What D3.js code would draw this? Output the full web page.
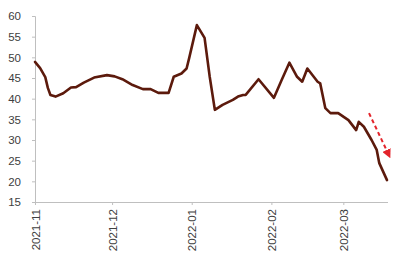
<!DOCTYPE html>
<html>
<head>
<meta charset="utf-8">
<script src="https://cdn.jsdelivr.net/npm/d3@7"></script>
<style>
  body { margin: 0; background: #fff; }
  svg { display: block; font-family: "Liberation Sans", Arial, sans-serif; }
</style>
</head>
<body>
<div id="chart"></div>
<script>
// data
var dates = ["2021-11-01","2021-11-03","2021-11-05","2021-11-06","2021-11-07","2021-11-09",
  "2021-11-12","2021-11-15","2021-11-17","2021-11-20","2021-11-24","2021-11-29","2021-12-02",
  "2021-12-05","2021-12-09","2021-12-13","2021-12-16","2021-12-19","2021-12-23","2021-12-25",
  "2021-12-28","2021-12-30","2021-12-31","2022-01-03","2022-01-06","2022-01-08","2022-01-10",
  "2022-01-13","2022-01-17","2022-01-19","2022-01-21","2022-01-22","2022-01-27","2022-02-02",
  "2022-02-05","2022-02-08","2022-02-11","2022-02-13","2022-02-15","2022-02-19","2022-02-20",
  "2022-02-22","2022-02-24","2022-02-27","2022-03-03","2022-03-06","2022-03-07","2022-03-09",
  "2022-03-12","2022-03-14","2022-03-15","2022-03-18"];
var values = [48.9,47.4,45.2,42.6,40.9,40.5,
  41.3,42.7,42.8,43.9,45.1,45.7,45.4,
  44.7,43.3,42.3,42.3,41.4,41.4,45.3,
  46.1,47.3,49.8,57.8,54.7,45.3,37.3,
  38.5,39.7,40.5,40.9,40.9,44.7,40.2,
  44.5,48.7,45.3,44.1,47.3,44.1,43.7,
  37.7,36.5,36.5,34.8,32.4,34.4,33.2,
  30.0,27.6,24.4,20.3];
var monthTicks = ["2021-11-01","2021-12-01","2022-01-01","2022-02-01","2022-03-01"];
var yTicks = [15,20,25,30,35,40,45,50,55,60];
var arrowDates = ["2022-03-11","2022-03-19"];
var arrowValues = [36.5,26.0];

var parse = d3.timeParse("%Y-%m-%d");
var data = dates.map((d, i) => ({date: parse(d), value: values[i]}));

var width = 400, height = 260;
var svg = d3.select("#chart").append("svg")
    .attr("width", width)
    .attr("height", height);

var x = d3.scaleTime()
    .domain([parse("2021-11-01"), parse("2022-03-18")])
    .range([35, 387]);
var y = d3.scaleLinear()
    .domain([15, 60])
    .range([202, 16]);

var axisColor = "#bfbfbf";
var textColor = "#404040";

// y axis
var yAxis = svg.append("g")
    .attr("transform", "translate(35,0)")
    .call(d3.axisLeft(y).tickValues(yTicks).tickSize(3).tickPadding(11));
yAxis.selectAll("text").style("font-size", "11.5px").attr("fill", textColor);

// x axis
var xAxis = svg.append("g")
    .attr("transform", "translate(0,202)")
    .call(d3.axisBottom(x).tickValues(monthTicks.map(parse))
        .tickFormat(d3.timeFormat("%Y-%m")).tickSize(3).tickSizeOuter(0));
xAxis.selectAll("text")
    .style("font-size", "11.5px")
    .attr("fill", textColor)
    .attr("text-anchor", "end")
    .attr("transform", "rotate(-90)")
    .attr("x", -7)
    .attr("y", 0)
    .attr("dy", "0.35em");
svg.selectAll(".domain, .tick line").attr("stroke", axisColor);
// x axis line runs a touch past the last point
xAxis.select(".domain").attr("d", "M35,0.5H388");

// main line
var line = d3.line()
    .x(d => x(d.date))
    .y(d => y(d.value));

svg.append("path")
    .datum(data)
    .attr("fill", "none")
    .attr("stroke", "#5c1a0c")
    .attr("stroke-width", 2.6)
    .attr("stroke-linejoin", "round")
    .attr("stroke-linecap", "round")
    .attr("d", line);

// red dashed arrow
svg.append("defs").append("marker")
    .attr("id", "head")
    .attr("viewBox", "0 0 10 10")
    .attr("refX", 8).attr("refY", 5)
    .attr("markerWidth", 4.5).attr("markerHeight", 4.5)
    .attr("orient", "auto")
  .append("path")
    .attr("d", "M0,0L10,5L0,10Z")
    .attr("fill", "#e3242b");

svg.append("line")
    .attr("x1", x(parse(arrowDates[0])))
    .attr("y1", y(arrowValues[0]))
    .attr("x2", x(parse(arrowDates[1])))
    .attr("y2", y(arrowValues[1]))
    .attr("stroke", "#e3242b")
    .attr("stroke-width", 2)
    .attr("stroke-dasharray", "4,3")
    .attr("marker-end", "url(#head)");
</script>
</body>
</html>
